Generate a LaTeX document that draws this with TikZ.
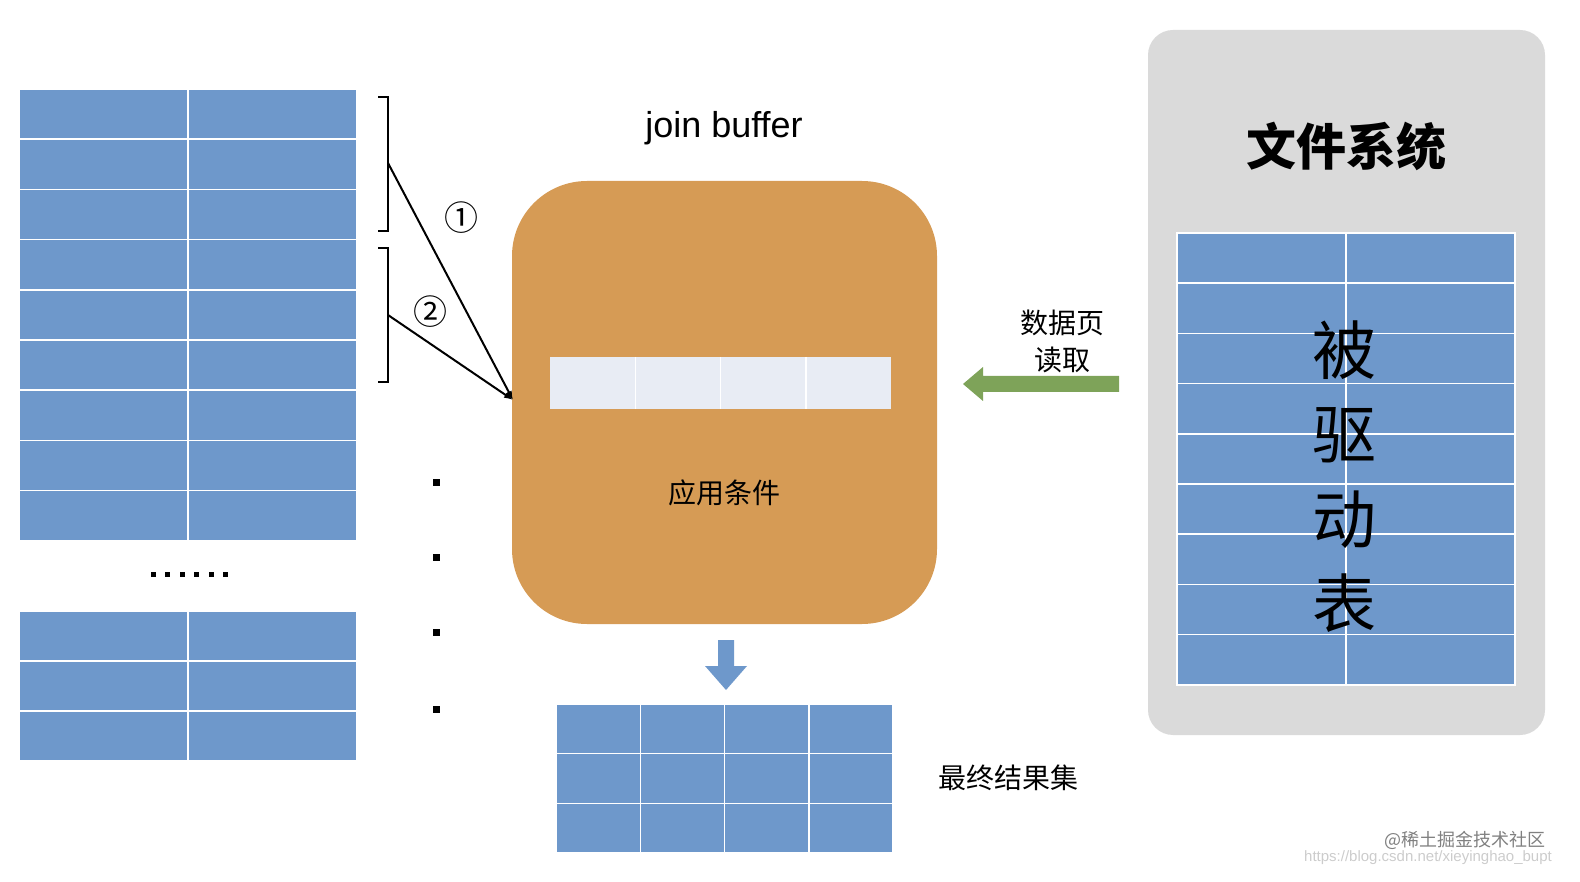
\documentclass[tikz,border=0pt]{standalone}
\usepackage{fontspec}
\setmainfont{Liberation Sans}
\newfontfamily\cjk{Noto Sans CJK SC}
\usetikzlibrary{arrows.meta}
\definecolor{tblue}{HTML}{6E98CB}
\definecolor{torange}{HTML}{D69B55}
\definecolor{tgray}{HTML}{DADADA}
\definecolor{tgreen}{HTML}{7EA359}
\definecolor{tstrip}{HTML}{E8ECF4}
\begin{document}
\begin{tikzpicture}[x=1pt,y=-1pt,
  grid/.style={draw=white,line width=1.5pt,fill=tblue},
  lbl/.style={font=\cjk\fontsize{28}{32}\selectfont},
  dot/.style={fill=black,minimum size=7pt,inner sep=0pt}]
\useasboundingbox (0,0) rectangle (1580,882);
% left tables
\foreach \r in {0,...,8}{\foreach \c in {0,1}{
  \fill[grid] (19+169*\c,89+50.2*\r) rectangle ++(169,50.2);}}
\foreach \r in {0,1,2}{\foreach \c in {0,1}{
  \fill[grid] (19+169*\c,611+50*\r) rectangle ++(169,50);}}
\foreach \i/\n in {0/e0,1/e1,2/e2,3/e3,4/e4,5/e5}{\node[fill=black,minimum size=5pt,inner sep=0pt] (\n) at (153+14.5*\i,574) {};}
% brackets
\draw[line width=1.8pt] (378,97) -- (388,97) -- (388,231) -- (378,231);
\draw[line width=1.8pt] (378,248) -- (388,248) -- (388,382) -- (378,382);
\coordinate (b1) at (388,163);
\coordinate (b2) at (388,315);
\node[font=\fontsize{34}{36}\selectfont\cjk] (c1) at (461,218) {①};
\node[font=\fontsize{34}{36}\selectfont\cjk] (c2) at (430,312) {②};
% orange buffer
\node[draw=none,fill=torange,rounded corners=75pt,minimum width=425pt,minimum height=443pt] (buf) at (724.5,402.5) {};
\coordinate (tip) at (513,400);
\draw[line width=2pt,-{Latex[length=9pt]}] (b1) -- (tip);
\draw[line width=2pt,-{Latex[length=9pt]}] (b2) -- (tip);
\fill[tstrip] (550,357) rectangle (891,409);
\foreach \c in {1,2,3}{\draw[white,line width=1.5pt] (550+85.25*\c,357) -- ++(0,52);}
\node[font=\fontsize{36}{40}\selectfont] (jb) at (724,128) {join buffer};
\node[lbl] (cond) at (724,493) {应用条件};
% vertical dots
\foreach \y/\n in {482/d1,557/d2,632/d3,709/d4}{\node[dot] (\n) at (436,\y) {};}
% down arrow
\fill[tblue] (718,640) -- (734,640) -- (734,666) -- (747,666) -- (726,690) -- (705,666) -- (718,666) -- cycle;
% result table
\foreach \r in {0,1,2}{\foreach \c in {0,...,3}{
  \fill[grid] (556+84.25*\c,704+49.7*\r) rectangle ++(84.25,49.7);}}
\node[lbl] (res) at (1008,778) {最终结果集};
% file system
\node[fill=tgray,rounded corners=25pt,minimum width=397pt,minimum height=705pt] (fs) at (1346.5,382.5) {};
\node[font=\cjk\bfseries\fontsize{50}{56}\selectfont] (fst) at (1346,146) {文件系统};
\foreach \r in {0,...,8}{\foreach \c in {0,1}{
  \fill[grid] (1177+169*\c,233+50.2*\r) rectangle ++(169,50.2);}}
\foreach \y/\t/\n in {350/被/k1,435/驱/k2,520/动/k3,603/表/k4}{
  \node[font=\cjk\fontsize{64}{70}\selectfont] (\n) at (1344,\y) {\t};}
% green arrow
\fill[tgreen] (1119,376) -- (983,376) -- (983,367) -- (963,384) -- (983,401) -- (983,392) -- (1119,392) -- cycle;
\node[font=\cjk\fontsize{28}{37}\selectfont,align=center] (rd) at (1062,341) {数据页\\读取};
% watermark
\node[font=\cjk\fontsize{18}{20}\selectfont,text=gray] (wm) at (1465,840) {@稀土掘金技术社区};
\node[font=\fontsize{15}{16}\selectfont,text=gray!40] (url) at (1428,858) {https://blog.csdn.net/xieyinghao\_bupt};
\end{tikzpicture}
\end{document}
